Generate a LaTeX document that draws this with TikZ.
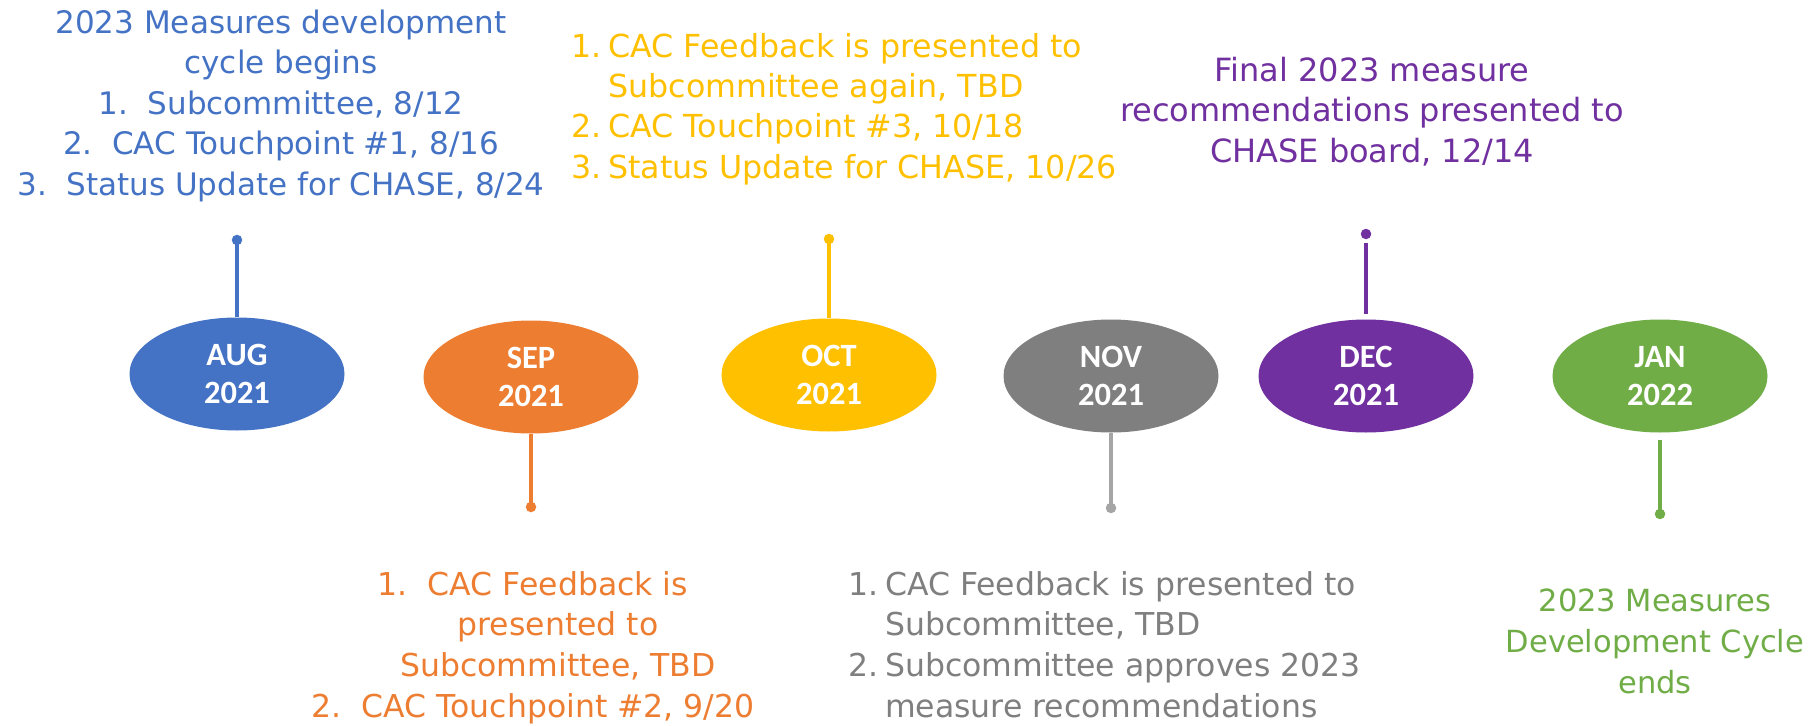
\documentclass[tikz,border=0pt]{standalone}
\usepackage{fontspec}
\setmainfont{DejaVu Sans}
\newfontfamily\txtF{DejaVu Sans}
\newfontfamily\monthF{Carlito}
\usetikzlibrary{shapes.geometric}
\definecolor{cblue}{HTML}{4472C4}
\definecolor{corange}{HTML}{ED7D31}
\definecolor{cyellow}{HTML}{FFC000}
\definecolor{cgray}{HTML}{7F7F7F}
\definecolor{cgraylt}{HTML}{A5A5A5}
\definecolor{cpurple}{HTML}{7030A0}
\definecolor{cgreen}{HTML}{70AD47}
\newcommand\numbox[1]{\makebox[37pt][l]{#1}}
\newcommand\firstline{\rule{0pt}{30pt}}
\begin{document}
\begin{tikzpicture}[x=1pt,y=-1pt,
  month/.style={ellipse, fill=#1, minimum width=215pt, minimum height=113pt, inner sep=0pt,
    text=white, align=center, font=\monthF\bfseries\fontsize{32.5}{38}\selectfont},
  stem/.style={draw=#1, line width=3.3pt},
  dotmark/.style={circle, fill=#1, minimum size=10.5pt, inner sep=0pt},
  lbl/.style={inner sep=0pt, anchor=north, align=center},
  lbll/.style={inner sep=0pt, anchor=north west, align=left}]
\fill[white] (0,0) rectangle (1819,725);
\useasboundingbox (0,0) rectangle (1819,725);

% month ellipses
\node[month=cblue]   (aug) at (237,374) {AUG\\2021};
\node[month=corange] (sep) at (531,377) {SEP\\2021};
\node[month=cyellow] (oct) at (829,375) {OCT\\2021};
\node[month=cgray]   (nov) at (1111,376) {NOV\\2021};
\node[month=cpurple] (dec) at (1366,376) {DEC\\2021};
\node[month=cgreen]  (jan) at (1660,376) {JAN\\2022};

% stems with dots
\node[dotmark=cblue]   (augdot) at (237,240) {};
\node[dotmark=corange] (sepdot) at (531,507) {};
\node[dotmark=cyellow] (octdot) at (829,239) {};
\node[dotmark=cgraylt] (novdot) at (1111,508) {};
\node[dotmark=cpurple] (decdot) at (1366,234) {};
\node[dotmark=cgreen]  (jandot) at (1660,514) {};
\draw[stem=cblue]   (augdot.center) -- (aug.north);
\draw[stem=corange] (sep.south) -- (sepdot.center);
\draw[stem=cyellow] (octdot.center) -- (oct.north);
\draw[stem=cgraylt] (nov.south) -- (novdot.center);
\draw[stem=cpurple, shorten <=4pt, shorten >=5pt] (decdot.south) -- (dec.north);
\draw[stem=cgreen, shorten <=7pt] (jan.south) -- (jandot.center);

% texts
\node[lbl, text=cblue, font=\txtF\fontsize{31}{40.5}\selectfont] (augtxt) at (281,3)
 {\firstline 2023 Measures development\\cycle begins\\1.\ \ Subcommittee, 8/12\\2.\ \ CAC Touchpoint \#1, 8/16\\3.\ \ Status Update for CHASE, 8/24};

\node[lbll, text=cyellow, font=\txtF\fontsize{31.7}{40.3}\selectfont] (octtxt) at (571,27)
 {\firstline\numbox{1.}CAC Feedback is presented to\\\hspace*{37pt}Subcommittee again, TBD\\\numbox{2.}CAC Touchpoint \#3, 10/18\\\numbox{3.}Status Update for CHASE, 10/26};

\node[lbl, text=cpurple, font=\txtF\fontsize{32}{40.5}\selectfont] (dectxt) at (1372,51)
 {\firstline Final 2023 measure\\recommendations presented to\\CHASE board, 12/14};

\node[lbl, text=corange, font=\txtF\fontsize{31.5}{40.7}\selectfont] (septxt) at (533,565)
 {\firstline 1.\ \ CAC Feedback is\\\hspace*{50pt}presented to\\\hspace*{50pt}Subcommittee, TBD\\2.\ \ CAC Touchpoint \#2, 9/20};

\node[lbll, text=cgray, font=\txtF\fontsize{31.5}{40.7}\selectfont] (novtxt) at (848,565)
 {\firstline\numbox{1.}CAC Feedback is presented to\\\hspace*{37pt}Subcommittee, TBD\\\numbox{2.}Subcommittee approves 2023\\\hspace*{37pt}measure recommendations};

\node[lbl, text=cgreen, font=\txtF\fontsize{30.5}{41}\selectfont] (jantxt) at (1655,581)
 {\firstline 2023 Measures\\Development Cycle\\ends};
\end{tikzpicture}
\end{document}
